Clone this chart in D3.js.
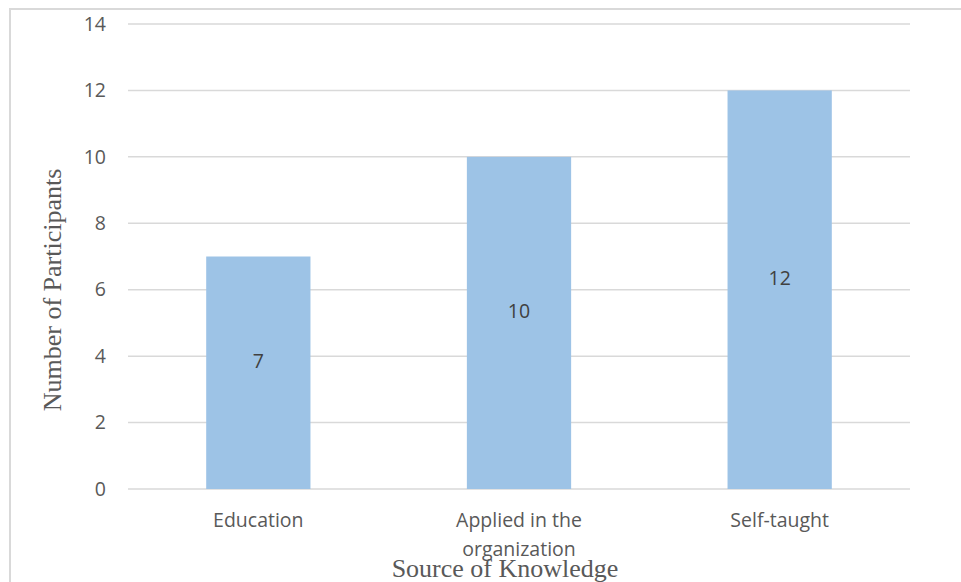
<!DOCTYPE html>
<meta charset="utf-8">
<style>
  body { margin: 0; background: #fff; }
  .tick text { font-family: "Open Sans", sans-serif; font-size: 19.5px; fill: #595959; }
  .grid line { stroke: #d9d9d9; stroke-width: 1.5; }
  .axis-title { font-family: "Liberation Serif", serif; font-size: 26px; fill: #595959; }
</style>
<svg width="961" height="582"></svg>
<script src="https://d3js.org/d3.v7.min.js"></script>
<script>
var categories = ["Education", "Applied in the organization", "Self-taught"];
var catLines = [["Education"], ["Applied in the", "organization"], ["Self-taught"]];
var values = [7, 10, 12];
var yTicks = [0, 2, 4, 6, 8, 10, 12, 14];

var svg = d3.select("svg");

// chart frame
svg.append("path")
    .attr("d", "M10,585 L10,9 L965,9")
    .attr("fill", "none")
    .attr("stroke", "#d9d9d9")
    .attr("stroke-width", 2);

var pLeft = 128, pRight = 910, pTop = 24, pBottom = 489;

var x = d3.scaleBand().domain(categories).range([pLeft, pRight]).paddingInner(0.6).paddingOuter(0.3);
var y = d3.scaleLinear().domain([0, 14]).range([pBottom, pTop]);

// gridlines
svg.append("g").attr("class", "grid")
  .selectAll("line")
  .data(yTicks)
  .enter().append("line")
    .attr("x1", pLeft).attr("x2", pRight)
    .attr("y1", function(d) { return y(d); })
    .attr("y2", function(d) { return y(d); });

// y axis labels
var yAxis = svg.append("g")
    .attr("transform", "translate(" + (pLeft - 14) + ",0)")
    .call(d3.axisLeft(y).tickValues(yTicks).tickSize(0).tickPadding(8));
yAxis.select(".domain").remove();

// bars
svg.selectAll("rect.bar")
  .data(values)
  .enter().append("rect")
    .attr("class", "bar")
    .attr("x", function(d, i) { return x(categories[i]); })
    .attr("width", x.bandwidth())
    .attr("y", function(d) { return y(d); })
    .attr("height", function(d) { return y(0) - y(d); })
    .attr("fill", "#9dc3e6");

// value labels
svg.selectAll("text.val")
  .data(values)
  .enter().append("text")
    .attr("class", "val")
    .attr("x", function(d, i) { return x(categories[i]) + x.bandwidth() / 2; })
    .attr("y", function(d) { return y(d / 2) - 12; })
    .attr("text-anchor", "middle")
    .attr("dy", "0.35em")
    .style("font-family", "'Open Sans', sans-serif")
    .style("font-size", "19.5px")
    .style("fill", "#404040")
    .text(function(d) { return d; });

// category labels
var cat = svg.selectAll("text.cat")
  .data(catLines)
  .enter().append("text")
    .attr("class", "cat")
    .attr("text-anchor", "middle")
    .style("font-family", "'Open Sans', sans-serif")
    .style("font-size", "19.5px")
    .style("fill", "#595959");
cat.selectAll("tspan")
  .data(function(d, i) { return d.map(function(s) { return { s: s, i: i }; }); })
  .enter().append("tspan")
    .attr("x", function(d) { return x(categories[d.i]) + x.bandwidth() / 2; })
    .attr("y", function(d, j) { return pBottom + 38 + j * 29; })
    .text(function(d) { return d.s; });

// axis titles
svg.append("text")
    .attr("class", "axis-title")
    .attr("x", 505)
    .attr("y", 577)
    .attr("text-anchor", "middle")
    .text("Source of Knowledge");

svg.append("text")
    .attr("class", "axis-title")
    .attr("transform", "translate(61,290) rotate(-90)")
    .attr("text-anchor", "middle")
    .text("Number of Participants");
</script>
